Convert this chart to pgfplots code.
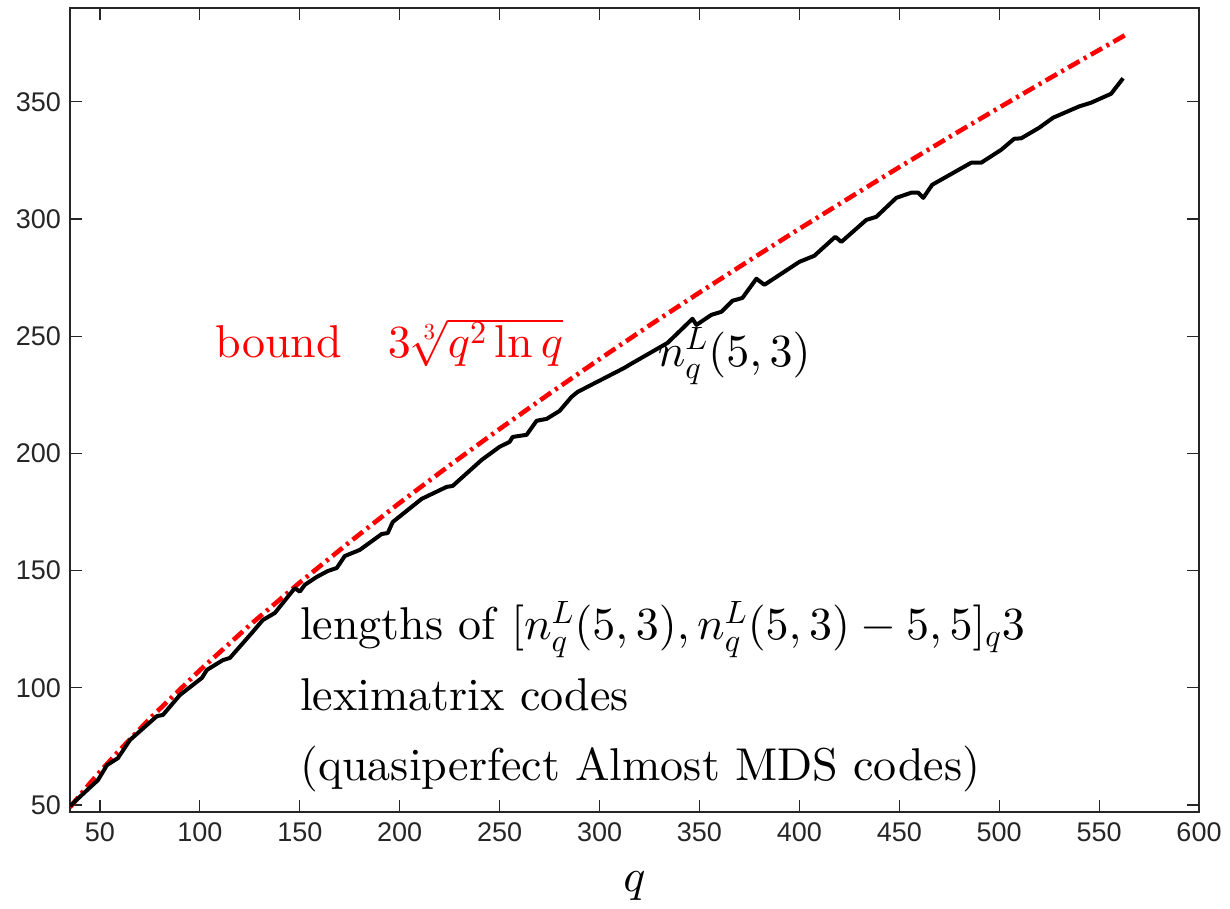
\documentclass[border=0pt]{standalone}
\usepackage{fontspec}
\setmainfont{lmroman10-regular.otf}[BoldFont=lmroman10-bold.otf, ItalicFont=lmroman10-italic.otf]
\DeclareFontShape{OML}{cmm}{m}{it}{<->cmmi10}{}
\DeclareFontShape{OMS}{cmsy}{m}{n}{<->cmsy10}{}
\DeclareFontShape{OT1}{cmr}{m}{n}{<->cmr10}{}
\usepackage{pgfplots}
\pgfplotsset{compat=1.18}
\newfontfamily\ticksfont{Liberation Sans}
\definecolor{axgray}{RGB}{38,38,38}
\begin{document}
\begin{tikzpicture}
\useasboundingbox (-35pt,-48.5pt) rectangle (580pt,406pt);
\begin{axis}[
  at={(0,0)}, anchor=south west,
  scale only axis, width=564.5pt, height=402pt,
  xmin=35, xmax=600, ymin=47, ymax=390,
  xtick={50,100,...,600}, ytick={50,100,...,350},
  tick pos=both, tick align=inside,
  major tick length=6pt,
  axis line style={axgray, line width=0.6pt},
  every tick/.style={axgray, line width=0.6pt},
  /pgf/number format/assume math mode=true,
  tick label style={font=\ticksfont\fontsize{13.5}{16}\selectfont, text=axgray},
  xticklabel style={yshift=-2pt},
  yticklabel style={xshift=-1pt},
  xlabel={$q$},
  xlabel style={font=\fontsize{23}{28}\selectfont, at={(axis description cs:0.5,0)}, anchor=center, yshift=-37pt},
  clip=true,
]
\addplot[red, line width=2.3pt, dash pattern=on 6.5pt off 2.5pt on 1.5pt off 2.5pt] coordinates {
(35,49.0)(40,54.2)(45,59.3)(50,64.2)(60,73.55)(75,86.9)(100,107.5)(125,126.75)
(150,144.9)(175,162.2)(200,178.9)(225,194.9)(250,210.4)(275,225.5)(300,240.2)
(325,254.6)(350,268.6)(375,282.3)(400,295.8)(425,309.0)(450,322.1)(475,334.9)
(500,347.5)(525,359.9)(550,372.1)(563,378.4)};
\addplot[black, line width=2pt, line join=round] coordinates {
(35,49.5)(42.5,55.5)(49,60.6)(53.5,67)(59,70)(65,77.7)(78.5,87.9)(81.5,88.4)
(90,96.9)(101,104.2)(103.5,107.6)(111.5,111.8)(115,112.7)(126,123.4)(131.5,128.9)
(137.5,131.9)(147.5,142.5)(150,141)(152.5,143.9)(158.5,147.3)(164,149.8)(168.5,151.1)
(172.5,156.2)(180,158.8)(191,165.6)(194,166)(196.5,170.7)(211,180.6)(223.5,185.7)
(226.5,186.1)(241,197.2)(250,202.8)(255,204.9)(256.5,207)(263.5,207.9)(268.5,213.9)
(273.5,214.7)(280,218.1)(286,224.1)(289,226.2)(312.5,236.5)(315,237.8)(334,247.1)
(346.5,257.4)(348.5,254.8)(356,259.1)(361,260.4)(366.5,265.1)(371.5,266.3)
(378.5,274.5)(382.5,271.9)(400,281.7)(407.5,284.3)(418,292.4)(421,290.2)
(433.5,299.6)(438.5,300.9)(448.5,309)(456,311.2)(459.5,311.2)(462,309)(466.5,314.6)
(486,324)(491,324)(501,329.5)(507.5,334.2)(511,334.4)(520,338.9)(527,343.2)
(540,348)(546,349.6)(556,353.4)(562,360)};
\node[anchor=base west, text=red, font=\fontsize{23}{28}\selectfont, inner sep=0pt]
  at (axis cs:107.5,241) {bound\quad $3\sqrt[3]{q^2\ln q}$};
\node[anchor=base west, font=\fontsize{23}{28}\selectfont, inner sep=0pt]
  at (axis cs:329,237) {$n_q^L(5,3)$};
\node[anchor=base west, font=\fontsize{23}{28}\selectfont, inner sep=0pt]
  at (axis cs:150,120.4) {lengths of $[n_q^L(5,3),n_q^L(5,3)-5,5]_q3$};
\node[anchor=base west, font=\fontsize{23}{28}\selectfont, inner sep=0pt]
  at (axis cs:150,90.5) {leximatrix codes};
\node[anchor=base west, font=\fontsize{23}{28}\selectfont, inner sep=0pt]
  at (axis cs:150,60.6) {(quasiperfect Almost MDS codes)};
\end{axis}
\end{tikzpicture}
\end{document}
